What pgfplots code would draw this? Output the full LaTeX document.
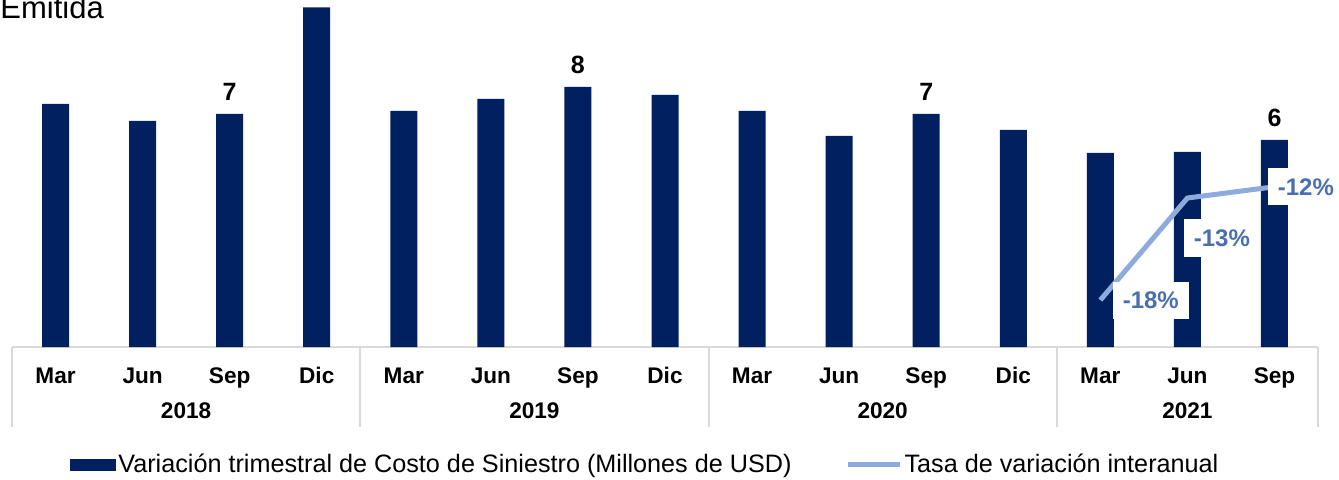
\documentclass[border=0pt]{standalone}
\usepackage{pgfplots}
\pgfplotsset{compat=1.18}
\usepackage{pgfplotstable}
\usepackage{fontspec}
\setmainfont{Liberation Sans}
\definecolor{navy}{HTML}{002060}
\definecolor{linec}{HTML}{8FAADC}
\definecolor{labc}{HTML}{4A6EAF}
\definecolor{sepc}{HTML}{D9D9D9}

\pgfplotstableread{
x y
0 7.30
1 6.79
2 7.00
3 10.20
4 7.09
5 7.45
6 7.81
7 7.57
8 7.09
9 6.34
10 7.00
11 6.52
12 5.83
13 5.86
14 6.22
}\bars

\pgfplotstableread{
x y lab
2 7.00 7
6 7.81 8
10 7.00 7
14 6.22 6
}\barlabels

\pgfplotstableread{
x y
12 -18.0
13 -13.0
14 -12.45
}\rates

\pgfplotsset{ratelab/.style={draw=none, mark=none, forget plot,
  nodes near coords={\pgfplotspointmeta\%}, point meta=explicit symbolic}}
\tikzset{ratebox/.style={anchor=west, fill=white, text=labc,
  font=\fontsize{12}{14}\selectfont\bfseries, inner xsep=5pt, inner ysep=5pt}}

\begin{document}
\begin{tikzpicture}
\useasboundingbox (-6pt,-66pt) rectangle (663.5pt,173.5pt);
\node[anchor=base west, font=\fontsize{15.5}{18}\selectfont, inner sep=0pt] at (-6pt,164.5pt) {Emitida};
\begin{axis}[
  at={(0,0)}, anchor=south west,
  scale only axis, width=653pt, height=173.5pt,
  xmin=-0.5, xmax=14.5, ymin=0, ymax=10.42,
  hide y axis,
  axis x line*=bottom,
  x axis line style={sepc, line width=1pt},
  xtick={0,...,14},
  xticklabels={Mar,Jun,Sep,Dic,Mar,Jun,Sep,Dic,Mar,Jun,Sep,Dic,Mar,Jun,Sep},
  major tick length=0pt,
  xticklabel style={font=\fontsize{11.3}{13}\selectfont\bfseries, anchor=base, yshift=-18pt},
  clip=false,
  legend columns=2,
  legend style={at={(0.0444,-0.34)}, anchor=west, draw=none, fill=none,
    font=\fontsize{12.6}{15}\selectfont, inner sep=0pt,
    nodes={inner sep=1pt},
    /tikz/every even column/.append style={column sep=26pt}},
]
\addplot[ybar, bar width=13.5pt, fill=navy, draw=none,
  legend image code/.code={\fill[navy] (0pt,-3pt) rectangle (23pt,3pt);}]
  table[x=x,y=y]{\bars};
\addlegendentry{Variación trimestral de Costo de Siniestro (Millones de USD)}
\addplot[forget plot, draw=none, mark=none, nodes near coords,
  point meta=explicit symbolic,
  nodes near coords style={font=\fontsize{12.5}{14}\selectfont\bfseries, anchor=south, yshift=3pt, text=black}]
  table[x=x,y=y,meta=lab]{\barlabels};
\addlegendimage{linec, line width=2.5pt,
  legend image code/.code={\draw[linec, line width=2.5pt] (0pt,0pt) -- (26pt,0pt);}}
\addlegendentry{Tasa de variación interanual}
\pgfplotsinvokeforeach{-0.5,3.5,7.5,11.5,14.5}{
  \draw[sepc, line width=1pt] (axis cs:#1,0) -- ++(0pt,-40pt);
}
\node[font=\fontsize{11.3}{13}\selectfont\bfseries] at ([yshift=-32pt]axis cs:1.5,0) {2018};
\node[font=\fontsize{11.3}{13}\selectfont\bfseries] at ([yshift=-32pt]axis cs:5.5,0) {2019};
\node[font=\fontsize{11.3}{13}\selectfont\bfseries] at ([yshift=-32pt]axis cs:9.5,0) {2020};
\node[font=\fontsize{11.3}{13}\selectfont\bfseries] at ([yshift=-32pt]axis cs:13,0) {2021};
\end{axis}
\begin{axis}[
  at={(0,0)}, anchor=south west,
  scale only axis, width=653pt, height=173.5pt,
  xmin=-0.5, xmax=14.5, ymin=-20.3, ymax=-3.3,
  hide axis, clip=false,
]
\addplot[linec, line width=2.5pt, mark=none] table[x=x,y=y]{\rates};
\addplot[ratelab, nodes near coords style={ratebox, xshift=6pt}]
  coordinates {(12,-18.0) [-18]};
\addplot[ratelab, nodes near coords style={ratebox, xshift=-2pt, yshift=-20pt}]
  coordinates {(13,-13.0) [-13]};
\addplot[ratelab, nodes near coords style={ratebox, xshift=-3.5pt}]
  coordinates {(14,-12.45) [-12]};
\end{axis}
\end{tikzpicture}
\end{document}
